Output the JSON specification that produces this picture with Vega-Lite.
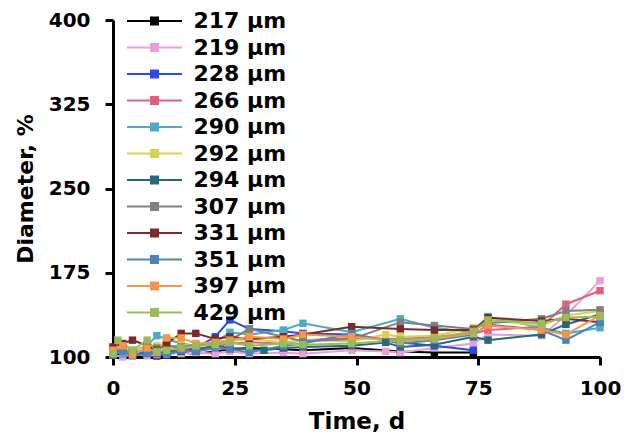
{
  "$schema": "https://vega.github.io/schema/vega-lite/v6.json",
  "width": 487,
  "height": 337,
  "autosize": "none",
  "padding": {"left": 113, "top": 20, "right": 24, "bottom": 86},
  "background": "white",
  "config": {
    "view": {"stroke": null},
    "font": "DejaVu Sans",
    "axis": {"grid": false, "domainColor": "black", "domainWidth": 3, "tickColor": "black", "tickWidth": 3, "tickSize": 8, "labelFont": "DejaVu Sans", "labelFontWeight": "bold", "labelFontSize": 20, "labelColor": "black", "titleFont": "DejaVu Sans", "titleFontWeight": "bold", "titleFontSize": 22, "titleColor": "black"}
  },
  "data": {"values": [
    {"s":"217 µm","t":0,"d":104},{"s":"217 µm","t":2,"d":101},{"s":"217 µm","t":4,"d":102},{"s":"217 µm","t":7,"d":103},{"s":"217 µm","t":9,"d":101},{"s":"217 µm","t":11,"d":103},{"s":"217 µm","t":14,"d":104},{"s":"217 µm","t":17,"d":103},{"s":"217 µm","t":21,"d":105},{"s":"217 µm","t":24,"d":107},{"s":"217 µm","t":28,"d":108},{"s":"217 µm","t":35,"d":107},{"s":"217 µm","t":39,"d":106},{"s":"217 µm","t":49,"d":108},{"s":"217 µm","t":59,"d":105},{"s":"217 µm","t":66,"d":104},{"s":"217 µm","t":74,"d":104},
    {"s":"219 µm","t":0,"d":102},{"s":"219 µm","t":2,"d":100},{"s":"219 µm","t":4,"d":103},{"s":"219 µm","t":7,"d":101},{"s":"219 µm","t":9,"d":102},{"s":"219 µm","t":11,"d":104},{"s":"219 µm","t":14,"d":103},{"s":"219 µm","t":17,"d":104},{"s":"219 µm","t":21,"d":103},{"s":"219 µm","t":24,"d":105},{"s":"219 µm","t":28,"d":103},{"s":"219 µm","t":35,"d":104},{"s":"219 µm","t":39,"d":103},{"s":"219 µm","t":49,"d":106},{"s":"219 µm","t":56,"d":105},{"s":"219 µm","t":59,"d":104},{"s":"219 µm","t":66,"d":108},{"s":"219 µm","t":74,"d":112},{"s":"219 µm","t":77,"d":120},{"s":"219 µm","t":88,"d":119},{"s":"219 µm","t":93,"d":137},{"s":"219 µm","t":100,"d":168},
    {"s":"228 µm","t":0,"d":106},{"s":"228 µm","t":2,"d":103},{"s":"228 µm","t":4,"d":104},{"s":"228 µm","t":7,"d":105},{"s":"228 µm","t":9,"d":103},{"s":"228 µm","t":11,"d":104},{"s":"228 µm","t":14,"d":106},{"s":"228 µm","t":17,"d":108},{"s":"228 µm","t":21,"d":118},{"s":"228 µm","t":24,"d":133},{"s":"228 µm","t":28,"d":125},{"s":"228 µm","t":35,"d":123},{"s":"228 µm","t":39,"d":121},{"s":"228 µm","t":49,"d":120},{"s":"228 µm","t":59,"d":113},{"s":"228 µm","t":66,"d":110},{"s":"228 µm","t":74,"d":106},
    {"s":"266 µm","t":0,"d":103},{"s":"266 µm","t":2,"d":104},{"s":"266 µm","t":4,"d":106},{"s":"266 µm","t":7,"d":108},{"s":"266 µm","t":9,"d":107},{"s":"266 µm","t":11,"d":110},{"s":"266 µm","t":14,"d":108},{"s":"266 µm","t":17,"d":106},{"s":"266 µm","t":21,"d":109},{"s":"266 µm","t":24,"d":112},{"s":"266 µm","t":28,"d":113},{"s":"266 µm","t":35,"d":112},{"s":"266 µm","t":39,"d":115},{"s":"266 µm","t":49,"d":117},{"s":"266 µm","t":59,"d":116},{"s":"266 µm","t":66,"d":118},{"s":"266 µm","t":74,"d":121},{"s":"266 µm","t":77,"d":124},{"s":"266 µm","t":88,"d":127},{"s":"266 µm","t":93,"d":147},{"s":"266 µm","t":100,"d":159},
    {"s":"290 µm","t":0,"d":108},{"s":"290 µm","t":2,"d":103},{"s":"290 µm","t":4,"d":105},{"s":"290 µm","t":7,"d":110},{"s":"290 µm","t":9,"d":119},{"s":"290 µm","t":11,"d":116},{"s":"290 µm","t":14,"d":112},{"s":"290 µm","t":17,"d":110},{"s":"290 µm","t":21,"d":113},{"s":"290 µm","t":24,"d":122},{"s":"290 µm","t":28,"d":120},{"s":"290 µm","t":35,"d":124},{"s":"290 µm","t":39,"d":130},{"s":"290 µm","t":49,"d":122},{"s":"290 µm","t":59,"d":134},{"s":"290 µm","t":66,"d":126},{"s":"290 µm","t":74,"d":122},{"s":"290 µm","t":77,"d":136},{"s":"290 µm","t":88,"d":126},{"s":"290 µm","t":93,"d":121},{"s":"290 µm","t":100,"d":126},
    {"s":"292 µm","t":0,"d":107},{"s":"292 µm","t":2,"d":105},{"s":"292 µm","t":4,"d":106},{"s":"292 µm","t":7,"d":108},{"s":"292 µm","t":9,"d":110},{"s":"292 µm","t":11,"d":109},{"s":"292 µm","t":14,"d":111},{"s":"292 µm","t":17,"d":110},{"s":"292 µm","t":21,"d":112},{"s":"292 µm","t":24,"d":114},{"s":"292 µm","t":28,"d":116},{"s":"292 µm","t":35,"d":113},{"s":"292 µm","t":39,"d":115},{"s":"292 µm","t":49,"d":114},{"s":"292 µm","t":56,"d":120},{"s":"292 µm","t":59,"d":118},{"s":"292 µm","t":66,"d":119},{"s":"292 µm","t":74,"d":126},{"s":"292 µm","t":77,"d":133},{"s":"292 µm","t":88,"d":128},{"s":"292 µm","t":93,"d":137},{"s":"292 µm","t":100,"d":141},
    {"s":"294 µm","t":0,"d":104},{"s":"294 µm","t":2,"d":107},{"s":"294 µm","t":4,"d":103},{"s":"294 µm","t":7,"d":104},{"s":"294 µm","t":9,"d":105},{"s":"294 µm","t":11,"d":106},{"s":"294 µm","t":14,"d":105},{"s":"294 µm","t":17,"d":107},{"s":"294 µm","t":21,"d":110},{"s":"294 µm","t":24,"d":108},{"s":"294 µm","t":28,"d":107},{"s":"294 µm","t":31,"d":106},{"s":"294 µm","t":35,"d":108},{"s":"294 µm","t":39,"d":109},{"s":"294 µm","t":49,"d":110},{"s":"294 µm","t":56,"d":113},{"s":"294 µm","t":59,"d":109},{"s":"294 µm","t":66,"d":111},{"s":"294 µm","t":74,"d":118},{"s":"294 µm","t":77,"d":115},{"s":"294 µm","t":88,"d":120},{"s":"294 µm","t":93,"d":129},{"s":"294 µm","t":100,"d":138},
    {"s":"307 µm","t":0,"d":105},{"s":"307 µm","t":2,"d":108},{"s":"307 µm","t":4,"d":104},{"s":"307 µm","t":7,"d":106},{"s":"307 µm","t":9,"d":108},{"s":"307 µm","t":11,"d":110},{"s":"307 µm","t":14,"d":109},{"s":"307 µm","t":17,"d":111},{"s":"307 µm","t":21,"d":113},{"s":"307 µm","t":24,"d":115},{"s":"307 µm","t":28,"d":125},{"s":"307 µm","t":35,"d":118},{"s":"307 µm","t":39,"d":114},{"s":"307 µm","t":49,"d":116},{"s":"307 µm","t":59,"d":131},{"s":"307 µm","t":66,"d":128},{"s":"307 µm","t":74,"d":125},{"s":"307 µm","t":77,"d":130},{"s":"307 µm","t":88,"d":134},{"s":"307 µm","t":93,"d":141},{"s":"307 µm","t":100,"d":142},
    {"s":"331 µm","t":0,"d":109},{"s":"331 µm","t":2,"d":112},{"s":"331 µm","t":4,"d":115},{"s":"331 µm","t":7,"d":110},{"s":"331 µm","t":9,"d":106},{"s":"331 µm","t":11,"d":112},{"s":"331 µm","t":14,"d":121},{"s":"331 µm","t":17,"d":121},{"s":"331 µm","t":21,"d":116},{"s":"331 µm","t":24,"d":118},{"s":"331 µm","t":28,"d":116},{"s":"331 µm","t":35,"d":118},{"s":"331 µm","t":39,"d":120},{"s":"331 µm","t":49,"d":127},{"s":"331 µm","t":59,"d":125},{"s":"331 µm","t":66,"d":124},{"s":"331 µm","t":74,"d":124},{"s":"331 µm","t":77,"d":135},{"s":"331 µm","t":88,"d":132},{"s":"331 µm","t":93,"d":134},{"s":"331 µm","t":100,"d":131},
    {"s":"351 µm","t":0,"d":102},{"s":"351 µm","t":2,"d":105},{"s":"351 µm","t":4,"d":101},{"s":"351 µm","t":7,"d":103},{"s":"351 µm","t":9,"d":104},{"s":"351 µm","t":11,"d":102},{"s":"351 µm","t":14,"d":106},{"s":"351 µm","t":17,"d":105},{"s":"351 µm","t":21,"d":108},{"s":"351 µm","t":24,"d":107},{"s":"351 µm","t":28,"d":104},{"s":"351 µm","t":35,"d":110},{"s":"351 µm","t":39,"d":112},{"s":"351 µm","t":49,"d":121},{"s":"351 µm","t":59,"d":112},{"s":"351 µm","t":66,"d":115},{"s":"351 µm","t":74,"d":120},{"s":"351 µm","t":77,"d":129},{"s":"351 µm","t":88,"d":124},{"s":"351 µm","t":93,"d":115},{"s":"351 µm","t":100,"d":131},
    {"s":"397 µm","t":0,"d":106},{"s":"397 µm","t":2,"d":110},{"s":"397 µm","t":4,"d":102},{"s":"397 µm","t":7,"d":108},{"s":"397 µm","t":9,"d":104},{"s":"397 µm","t":11,"d":117},{"s":"397 µm","t":14,"d":117},{"s":"397 µm","t":17,"d":112},{"s":"397 µm","t":21,"d":113},{"s":"397 µm","t":24,"d":115},{"s":"397 µm","t":28,"d":118},{"s":"397 µm","t":35,"d":116},{"s":"397 µm","t":39,"d":120},{"s":"397 µm","t":49,"d":118},{"s":"397 µm","t":59,"d":114},{"s":"397 µm","t":66,"d":116},{"s":"397 µm","t":74,"d":121},{"s":"397 µm","t":77,"d":128},{"s":"397 µm","t":88,"d":124},{"s":"397 µm","t":93,"d":120},{"s":"397 µm","t":100,"d":137},
    {"s":"429 µm","t":0,"d":103},{"s":"429 µm","t":1,"d":115},{"s":"429 µm","t":4,"d":106},{"s":"429 µm","t":7,"d":115},{"s":"429 µm","t":9,"d":105},{"s":"429 µm","t":11,"d":106},{"s":"429 µm","t":14,"d":108},{"s":"429 µm","t":17,"d":110},{"s":"429 µm","t":21,"d":111},{"s":"429 µm","t":24,"d":113},{"s":"429 µm","t":28,"d":110},{"s":"429 µm","t":35,"d":112},{"s":"429 µm","t":39,"d":111},{"s":"429 µm","t":49,"d":112},{"s":"429 µm","t":59,"d":115},{"s":"429 µm","t":66,"d":117},{"s":"429 µm","t":74,"d":123},{"s":"429 µm","t":77,"d":133},{"s":"429 µm","t":88,"d":130},{"s":"429 µm","t":93,"d":135},{"s":"429 µm","t":100,"d":136}
  ]},
  "mark": {"type": "line", "strokeWidth": 2, "point": {"shape": "square", "size": 55, "filled": true, "opacity": 1}},
  "encoding": {
    "x": {"field": "t", "type": "quantitative", "title": "Time, d", "scale": {"domain": [0, 100], "nice": false, "zero": false}, "axis": {"values": [0, 25, 50, 75, 100], "labelPadding": 13, "titlePadding": 12, "titleFontSize": 23, "labelFlush": false}},
    "y": {"field": "d", "type": "quantitative", "title": "Diameter, %", "scale": {"domain": [100, 400], "nice": false, "zero": false}, "axis": {"values": [100, 175, 250, 325, 400], "labelPadding": 15, "titlePadding": 11, "labelFlush": false}},
    "color": {"field": "s", "type": "nominal", "title": null,
      "scale": {"domain": ["217 µm","219 µm","228 µm","266 µm","290 µm","292 µm","294 µm","307 µm","331 µm","351 µm","397 µm","429 µm"],
                "range": ["#000000","#E99FDB","#2A4BE8","#E0607E","#4BACC6","#D4D454","#236B7A","#808080","#7B2A2A","#4F81BD","#F79646","#9BBB59"]},
      "legend": {"orient": "none", "legendX": 30.5, "legendY": -10, "symbolType": "M-2.75,-0.1H2.75V0.1H-2.75Z M-0.45,-0.45H0.45V0.45H-0.45Z", "symbolSize": 400, "symbolStrokeWidth": 0, "labelFont": "DejaVu Sans", "labelFontWeight": "bold", "labelFontSize": 22, "labelColor": "black", "labelOffset": 28, "rowPadding": 4.5, "labelLimit": 200,
        "encode": {"symbols": {"update": {"fill": {"scale": "color", "field": "value"}, "opacity": {"value": 1}}}}}
    }
  }
}
